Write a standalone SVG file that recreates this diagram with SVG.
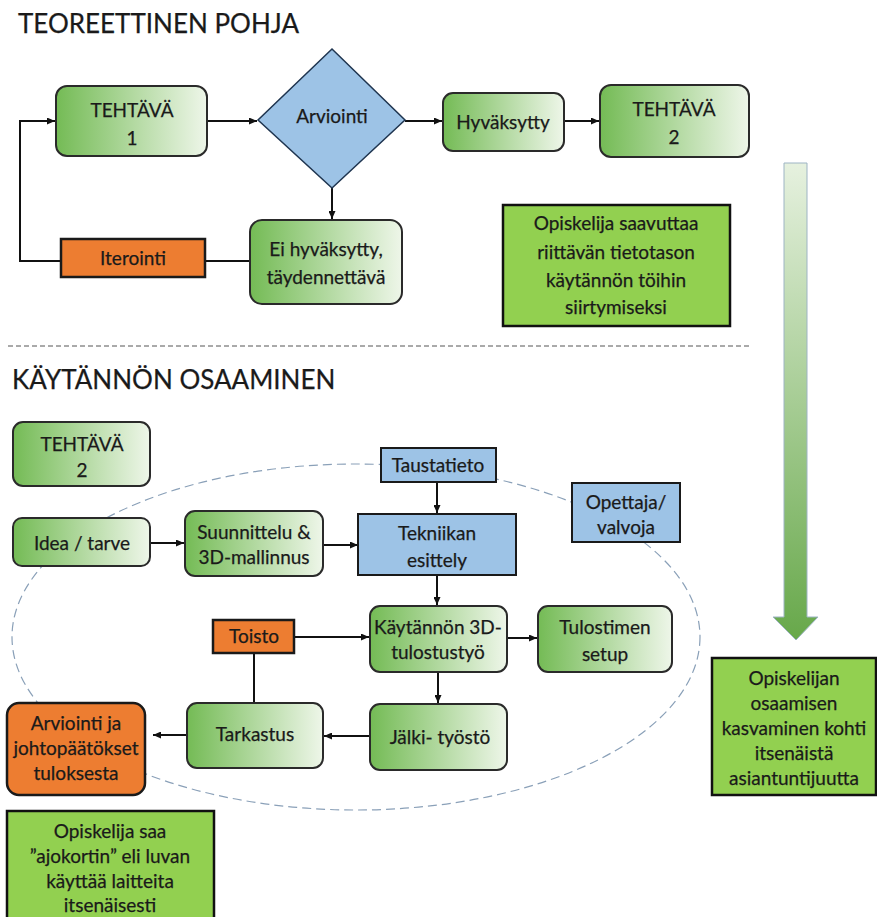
<svg xmlns="http://www.w3.org/2000/svg" width="877" height="917" viewBox="0 0 877 917">
<defs>
<linearGradient id="grn" x1="0" y1="0" x2="1" y2="0">
<stop offset="0" stop-color="#74bb55"/>
<stop offset="1" stop-color="#eef6e9"/>
</linearGradient>
<linearGradient id="big" x1="0" y1="0" x2="0" y2="1">
<stop offset="0" stop-color="#e6f1df"/>
<stop offset="1" stop-color="#67a84a"/>
</linearGradient>
<marker id="ah" markerWidth="8" markerHeight="7" refX="8" refY="3.5" orient="auto" markerUnits="userSpaceOnUse">
<path d="M0,0 L8,3.5 L0,7 z" fill="#111"/>
</marker>
<style>
.g{fill:url(#grn);stroke:#2a2a2a;stroke-width:2}
.b{fill:#9dc3e6;stroke:#1a1a1a;stroke-width:2}
.o{fill:#ed7d31;stroke:#1a1a1a;stroke-width:2.5}
.lg{fill:#92d050;stroke:#111;stroke-width:2.5}
text{font-family:Lato,"Open Sans",sans-serif;font-size:19px;fill:#1a1a1a;text-anchor:middle;stroke:#1a1a1a;stroke-width:0.25}
.t{font-size:26px;text-anchor:start}
.c{fill:none;stroke:#111;stroke-width:2}
.a{marker-end:url(#ah)}
</style>
</defs>
<text class="t" x="18" y="33">TEOREETTINEN POHJA</text>
<text class="t" x="12" y="389">KÄYTÄNNÖN OSAAMINEN</text>
<line x1="8" y1="346" x2="750" y2="346" stroke="#555" stroke-width="1" stroke-dasharray="5,3"/>
<ellipse cx="356" cy="637" rx="344" ry="173" fill="none" stroke="#8aa0b8" stroke-width="1.2" stroke-dasharray="9,5"/>
<g id="bigarrow"><polygon points="784,163 807,163 807,617 818,617 796,640 773,617 784,617" fill="url(#big)" stroke="#9db4c4" stroke-width="1"/></g>
<g id="connectors">
<path class="c a" d="M207,121 H257"/>
<path class="c a" d="M405,121 H442"/>
<path class="c a" d="M564,121 H599"/>
<path class="c a" d="M332,188 V219"/>
<path class="c" d="M250,261 H205"/>
<path class="c a" d="M61,261 H20 V121 H55"/>
<path class="c a" d="M150,543 H184"/>
<path class="c a" d="M323,545 H358"/>
<path class="c a" d="M437,482 V513"/>
<path class="c a" d="M437,575 V605"/>
<path class="c a" d="M507,638 H537"/>
<path class="c a" d="M294,637 H369"/>
<path class="c" d="M254,653 V703"/>
<path class="c a" d="M438,672 V703"/>
<path class="c a" d="M370,736 H324"/>
<path class="c a" d="M187,735 H153"/>
</g>
<g id="tehtava1"><rect class="g" x="56" y="86" width="151" height="70" rx="11"/><text x="132" y="117">TEHTÄVÄ</text><text x="132" y="145">1</text></g>
<g id="arviointi"><polygon points="332,49 405,120 332,188 258,120" fill="#9dc3e6" stroke="#1f3550" stroke-width="1.5"/><text x="332" y="123">Arviointi</text></g>
<g id="hyvaksytty"><rect class="g" x="443" y="93" width="121" height="58" rx="10"/><text x="503" y="129">Hyväksytty</text></g>
<g id="tehtava2a"><rect class="g" x="600" y="85" width="149" height="72" rx="11"/><text x="674" y="116">TEHTÄVÄ</text><text x="674" y="144">2</text></g>
<g id="eihyvaksytty"><rect class="g" x="250" y="220" width="152" height="84" rx="12"/><text x="326" y="256">Ei hyväksytty,</text><text x="326" y="284">täydennettävä</text></g>
<g id="iterointi"><rect class="o" x="61" y="239" width="144" height="38"/><text x="133" y="265">Iterointi</text></g>
<g id="saavuttaa"><rect class="lg" x="503" y="205" width="227" height="121"/><text x="616" y="230">Opiskelija saavuttaa</text><text x="616" y="259">riittävän tietotason</text><text x="616" y="287">käytännön töihin</text><text x="616" y="314">siirtymiseksi</text></g>
<g id="tehtava2b"><rect class="g" x="13" y="422" width="137" height="64" rx="10"/><text x="82" y="451">TEHTÄVÄ</text><text x="82" y="477">2</text></g>
<g id="idea"><rect class="g" x="13" y="518" width="137" height="48" rx="9"/><text x="82" y="550">Idea / tarve</text></g>
<g id="suunnittelu"><rect class="g" x="185" y="511" width="138" height="65" rx="10"/><text x="254" y="539">Suunnittelu &amp;</text><text x="254" y="564">3D-mallinnus</text></g>
<g id="taustatieto"><rect class="b" x="381" y="448" width="115" height="34"/><text x="438" y="472">Taustatieto</text></g>
<g id="tekniikan"><rect class="b" x="358" y="514" width="158" height="61"/><text x="437" y="540">Tekniikan</text><text x="437" y="567">esittely</text></g>
<g id="opettaja"><rect class="b" x="572" y="483" width="108" height="59"/><text x="626" y="509">Opettaja/</text><text x="626" y="534">valvoja</text></g>
<g id="kaytannon"><rect class="g" x="370" y="606" width="137" height="66" rx="10"/><text x="438" y="634">Käytännön 3D-</text><text x="438" y="659">tulostustyö</text></g>
<g id="tulostimen"><rect class="g" x="538" y="606" width="134" height="66" rx="10"/><text x="605" y="634">Tulostimen</text><text x="605" y="661">setup</text></g>
<g id="toisto"><rect class="o" x="213" y="620" width="81" height="33"/><text x="254" y="643">Toisto</text></g>
<g id="tarkastus"><rect class="g" x="187" y="703" width="136" height="65" rx="10"/><text x="255" y="741">Tarkastus</text></g>
<g id="jalki"><rect class="g" x="370" y="704" width="137" height="66" rx="10"/><text x="440" y="744">Jälki- työstö</text></g>
<g id="arviointijohto"><rect class="o" x="7" y="703" width="138" height="92" rx="12" stroke-width="2"/><text x="76" y="730">Arviointi ja</text><text x="76" y="755">johtopäätökset</text><text x="76" y="780">tuloksesta</text></g>
<g id="ajokortti"><rect class="lg" x="7" y="811" width="207" height="120"/><text x="110" y="838">Opiskelija saa</text><text x="110" y="863">”ajokortin” eli luvan</text><text x="110" y="888">käyttää laitteita</text><text x="110" y="912">itsenäisesti</text></g>
<g id="kasvaminen"><rect class="lg" x="712" y="658" width="164" height="137"/><text x="794" y="685">Opiskelijan</text><text x="794" y="710">osaamisen</text><text x="794" y="735">kasvaminen kohti</text><text x="794" y="760">itsenäistä</text><text x="794" y="785">asiantuntijuutta</text></g>
</svg>
